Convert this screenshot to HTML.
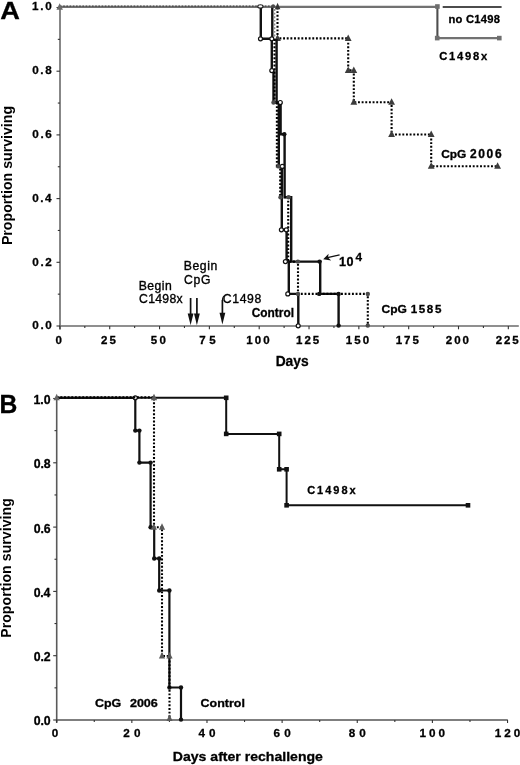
<!DOCTYPE html>
<html><head><meta charset="utf-8"><style>
html,body{margin:0;padding:0;background:#fff;}
svg{display:block;will-change:transform;}
text{font-family:"Liberation Sans", sans-serif;}
</style></head><body>
<svg width="520" height="765" viewBox="0 0 520 765">
<rect width="520" height="765" fill="#fff"/>
<line x1="60" y1="7" x2="60" y2="329.5" stroke="#7a7a7a" stroke-width="1.8"/>
<line x1="59" y1="326" x2="518.8" y2="326" stroke="#6a6a6a" stroke-width="1.7"/>
<line x1="56.5" y1="326.00" x2="60" y2="326.00" stroke="#333" stroke-width="1.1"/>
<line x1="57.8" y1="294.15" x2="60" y2="294.15" stroke="#333" stroke-width="1.1"/>
<line x1="56.5" y1="262.30" x2="60" y2="262.30" stroke="#333" stroke-width="1.1"/>
<line x1="57.8" y1="230.45" x2="60" y2="230.45" stroke="#333" stroke-width="1.1"/>
<line x1="56.5" y1="198.60" x2="60" y2="198.60" stroke="#333" stroke-width="1.1"/>
<line x1="57.8" y1="166.75" x2="60" y2="166.75" stroke="#333" stroke-width="1.1"/>
<line x1="56.5" y1="134.90" x2="60" y2="134.90" stroke="#333" stroke-width="1.1"/>
<line x1="57.8" y1="103.05" x2="60" y2="103.05" stroke="#333" stroke-width="1.1"/>
<line x1="56.5" y1="71.20" x2="60" y2="71.20" stroke="#333" stroke-width="1.1"/>
<line x1="57.8" y1="39.35" x2="60" y2="39.35" stroke="#333" stroke-width="1.1"/>
<line x1="56.5" y1="7.50" x2="60" y2="7.50" stroke="#333" stroke-width="1.1"/>
<line x1="59.90" y1="326" x2="59.90" y2="329.3" stroke="#333" stroke-width="1.1"/>
<line x1="84.81" y1="326" x2="84.81" y2="328.0" stroke="#333" stroke-width="1.1"/>
<line x1="109.72" y1="326" x2="109.72" y2="329.3" stroke="#333" stroke-width="1.1"/>
<line x1="134.64" y1="326" x2="134.64" y2="328.0" stroke="#333" stroke-width="1.1"/>
<line x1="159.55" y1="326" x2="159.55" y2="329.3" stroke="#333" stroke-width="1.1"/>
<line x1="184.46" y1="326" x2="184.46" y2="328.0" stroke="#333" stroke-width="1.1"/>
<line x1="209.38" y1="326" x2="209.38" y2="329.3" stroke="#333" stroke-width="1.1"/>
<line x1="234.29" y1="326" x2="234.29" y2="328.0" stroke="#333" stroke-width="1.1"/>
<line x1="259.20" y1="326" x2="259.20" y2="329.3" stroke="#333" stroke-width="1.1"/>
<line x1="284.11" y1="326" x2="284.11" y2="328.0" stroke="#333" stroke-width="1.1"/>
<line x1="309.02" y1="326" x2="309.02" y2="329.3" stroke="#333" stroke-width="1.1"/>
<line x1="333.94" y1="326" x2="333.94" y2="328.0" stroke="#333" stroke-width="1.1"/>
<line x1="358.85" y1="326" x2="358.85" y2="329.3" stroke="#333" stroke-width="1.1"/>
<line x1="383.76" y1="326" x2="383.76" y2="328.0" stroke="#333" stroke-width="1.1"/>
<line x1="408.68" y1="326" x2="408.68" y2="329.3" stroke="#333" stroke-width="1.1"/>
<line x1="433.59" y1="326" x2="433.59" y2="328.0" stroke="#333" stroke-width="1.1"/>
<line x1="458.50" y1="326" x2="458.50" y2="329.3" stroke="#333" stroke-width="1.1"/>
<line x1="483.41" y1="326" x2="483.41" y2="328.0" stroke="#333" stroke-width="1.1"/>
<line x1="508.32" y1="326" x2="508.32" y2="329.3" stroke="#333" stroke-width="1.1"/>
<text x="32.33" y="329.30" font-size="11.70" font-weight="bold" fill="#000" stroke="#000" stroke-width="0.3" letter-spacing="1.59">0.0</text>
<text x="32.33" y="265.50" font-size="11.70" font-weight="bold" fill="#000" stroke="#000" stroke-width="0.3" letter-spacing="1.59">0.2</text>
<text x="32.33" y="201.70" font-size="11.70" font-weight="bold" fill="#000" stroke="#000" stroke-width="0.3" letter-spacing="1.41">0.4</text>
<text x="32.33" y="137.90" font-size="11.70" font-weight="bold" fill="#000" stroke="#000" stroke-width="0.3" letter-spacing="1.59">0.6</text>
<text x="32.33" y="74.10" font-size="11.70" font-weight="bold" fill="#000" stroke="#000" stroke-width="0.3" letter-spacing="1.53">0.8</text>
<text x="32.10" y="10.30" font-size="11.70" font-weight="bold" fill="#000" stroke="#000" stroke-width="0.3" letter-spacing="1.70">1.0</text>
<text x="55.39" y="343.80" font-size="11.50" font-weight="bold" fill="#000" stroke="#000" stroke-width="0.3">0</text>
<text x="100.98" y="343.80" font-size="11.50" font-weight="bold" fill="#000" stroke="#000" stroke-width="0.3" letter-spacing="2.21">25</text>
<text x="150.81" y="343.80" font-size="11.50" font-weight="bold" fill="#000" stroke="#000" stroke-width="0.3" letter-spacing="2.32">50</text>
<text x="199.37" y="343.80" font-size="11.50" font-weight="bold" fill="#000" stroke="#000" stroke-width="0.3" letter-spacing="3.47">75</text>
<text x="246.21" y="343.80" font-size="11.50" font-weight="bold" fill="#000" stroke="#000" stroke-width="0.3" letter-spacing="2.07">100</text>
<text x="296.03" y="343.80" font-size="11.50" font-weight="bold" fill="#000" stroke="#000" stroke-width="0.3" letter-spacing="2.02">125</text>
<text x="345.86" y="343.80" font-size="11.50" font-weight="bold" fill="#000" stroke="#000" stroke-width="0.3" letter-spacing="2.07">150</text>
<text x="395.69" y="343.80" font-size="11.50" font-weight="bold" fill="#000" stroke="#000" stroke-width="0.3" letter-spacing="2.02">175</text>
<text x="445.85" y="343.80" font-size="11.50" font-weight="bold" fill="#000" stroke="#000" stroke-width="0.3" letter-spacing="1.90">200</text>
<text x="495.68" y="343.80" font-size="11.50" font-weight="bold" fill="#000" stroke="#000" stroke-width="0.3" letter-spacing="1.84">225</text>
<text transform="translate(275.63,365.60) scale(0.999,1)" x="0" y="0" font-size="13.80" font-weight="bold" fill="#000" stroke="#000" stroke-width="0.3">Days</text>
<text transform="translate(11.60,245.09) rotate(-90)" x="0" y="0" font-size="14.20" font-weight="bold" letter-spacing="-0.02">Proportion surviving</text>
<text transform="translate(0.23,18.50) scale(1.110,1)" x="0" y="0" font-size="24.50" font-weight="bold" fill="#000" stroke="#000" stroke-width="0.3">A</text>
<line x1="56.7" y1="398" x2="56.7" y2="722.5" stroke="#5a5a5a" stroke-width="1.6"/>
<line x1="56" y1="720" x2="507.8" y2="720" stroke="#555" stroke-width="1.5"/>
<line x1="53.2" y1="720.00" x2="56.7" y2="720.00" stroke="#333" stroke-width="1.1"/>
<line x1="54.5" y1="687.85" x2="56.7" y2="687.85" stroke="#333" stroke-width="1.1"/>
<line x1="53.2" y1="655.70" x2="56.7" y2="655.70" stroke="#333" stroke-width="1.1"/>
<line x1="54.5" y1="623.55" x2="56.7" y2="623.55" stroke="#333" stroke-width="1.1"/>
<line x1="53.2" y1="591.40" x2="56.7" y2="591.40" stroke="#333" stroke-width="1.1"/>
<line x1="54.5" y1="559.25" x2="56.7" y2="559.25" stroke="#333" stroke-width="1.1"/>
<line x1="53.2" y1="527.10" x2="56.7" y2="527.10" stroke="#333" stroke-width="1.1"/>
<line x1="54.5" y1="494.95" x2="56.7" y2="494.95" stroke="#333" stroke-width="1.1"/>
<line x1="53.2" y1="462.80" x2="56.7" y2="462.80" stroke="#333" stroke-width="1.1"/>
<line x1="54.5" y1="430.65" x2="56.7" y2="430.65" stroke="#333" stroke-width="1.1"/>
<line x1="53.2" y1="398.50" x2="56.7" y2="398.50" stroke="#333" stroke-width="1.1"/>
<line x1="56.70" y1="720" x2="56.70" y2="723.0" stroke="#333" stroke-width="1.1"/>
<line x1="94.27" y1="720" x2="94.27" y2="722.0" stroke="#333" stroke-width="1.1"/>
<line x1="131.84" y1="720" x2="131.84" y2="723.0" stroke="#333" stroke-width="1.1"/>
<line x1="169.41" y1="720" x2="169.41" y2="722.0" stroke="#333" stroke-width="1.1"/>
<line x1="206.98" y1="720" x2="206.98" y2="723.0" stroke="#333" stroke-width="1.1"/>
<line x1="244.55" y1="720" x2="244.55" y2="722.0" stroke="#333" stroke-width="1.1"/>
<line x1="282.12" y1="720" x2="282.12" y2="723.0" stroke="#333" stroke-width="1.1"/>
<line x1="319.69" y1="720" x2="319.69" y2="722.0" stroke="#333" stroke-width="1.1"/>
<line x1="357.26" y1="720" x2="357.26" y2="723.0" stroke="#333" stroke-width="1.1"/>
<line x1="394.83" y1="720" x2="394.83" y2="722.0" stroke="#333" stroke-width="1.1"/>
<line x1="432.40" y1="720" x2="432.40" y2="723.0" stroke="#333" stroke-width="1.1"/>
<line x1="469.97" y1="720" x2="469.97" y2="722.0" stroke="#333" stroke-width="1.1"/>
<line x1="507.54" y1="720" x2="507.54" y2="723.0" stroke="#333" stroke-width="1.1"/>
<text x="33.71" y="725.40" font-size="12.30" font-weight="bold" fill="#000" stroke="#000" stroke-width="0.3" letter-spacing="-0.06">0.0</text>
<text x="33.71" y="661.10" font-size="12.30" font-weight="bold" fill="#000" stroke="#000" stroke-width="0.3" letter-spacing="-0.06">0.2</text>
<text x="33.71" y="596.80" font-size="12.30" font-weight="bold" fill="#000" stroke="#000" stroke-width="0.3" letter-spacing="-0.24">0.4</text>
<text x="33.71" y="532.50" font-size="12.30" font-weight="bold" fill="#000" stroke="#000" stroke-width="0.3" letter-spacing="-0.06">0.6</text>
<text x="33.71" y="468.20" font-size="12.30" font-weight="bold" fill="#000" stroke="#000" stroke-width="0.3" letter-spacing="-0.12">0.8</text>
<text x="33.46" y="403.90" font-size="12.30" font-weight="bold" fill="#000" stroke="#000" stroke-width="0.3" letter-spacing="0.07">1.0</text>
<text x="51.78" y="736.60" font-size="11.70" font-weight="bold" fill="#000" stroke="#000" stroke-width="0.3">0</text>
<text x="123.29" y="736.60" font-size="11.70" font-weight="bold" fill="#000" stroke="#000" stroke-width="0.3" letter-spacing="4.11">20</text>
<text x="198.55" y="736.60" font-size="11.70" font-weight="bold" fill="#000" stroke="#000" stroke-width="0.3" letter-spacing="4.00">40</text>
<text x="273.45" y="736.60" font-size="11.70" font-weight="bold" fill="#000" stroke="#000" stroke-width="0.3" letter-spacing="4.23">60</text>
<text x="348.71" y="736.60" font-size="11.70" font-weight="bold" fill="#000" stroke="#000" stroke-width="0.3" letter-spacing="4.11">80</text>
<text x="419.55" y="736.60" font-size="11.70" font-weight="bold" fill="#000" stroke="#000" stroke-width="0.3" letter-spacing="2.97">100</text>
<text x="494.69" y="736.60" font-size="11.70" font-weight="bold" fill="#000" stroke="#000" stroke-width="0.3" letter-spacing="2.97">120</text>
<text transform="translate(172.81,761.30) scale(1.058,1)" x="0" y="0" font-size="13.30" font-weight="bold" fill="#000" stroke="#000" stroke-width="0.3">Days after rechallenge</text>
<text transform="translate(11.00,637.78) rotate(-90)" x="0" y="0" font-size="14.00" font-weight="bold" letter-spacing="0.10">Proportion surviving</text>
<text transform="translate(-0.58,413.40) scale(0.968,1)" x="0" y="0" font-size="25.50" font-weight="bold" fill="#000" stroke="#000" stroke-width="0.3">B</text>
<path d="M60,6.9 H437" fill="none" stroke="#727272" stroke-width="2.2" stroke-linejoin="miter" stroke-linecap="butt"/>
<path d="M60,6.1000000000000005 H272" fill="none" stroke="#444" stroke-width="1.4" stroke-linejoin="miter" stroke-linecap="butt" stroke-dasharray="1.6 1.6"/>
<path d="M442.7,6.9 H501.6" fill="none" stroke="#111" stroke-width="1.5" stroke-linejoin="miter" stroke-linecap="butt"/>
<path d="M437.4,6.9 V38.1" fill="none" stroke="#4e4e4e" stroke-width="2.1" stroke-linejoin="miter" stroke-linecap="butt"/>
<path d="M437.4,38.1 H499.3" fill="none" stroke="#727272" stroke-width="2.1" stroke-linejoin="miter" stroke-linecap="butt"/>
<rect x="435.10" y="4.20" width="4.6" height="4.6" fill="#6e6e6e"/>
<rect x="434.90" y="35.80" width="4.6" height="4.6" fill="#6e6e6e"/>
<rect x="497.00" y="35.80" width="4.6" height="4.6" fill="#6e6e6e"/>
<path d="M277.5,7.5 V38.4 H348.2 V70.4 H353.8 V102.2 H391.6 V134.5 H431.2 V166.3 H497.6" fill="none" stroke="#000" stroke-width="2.1" stroke-linejoin="miter" stroke-linecap="butt" stroke-dasharray="1.9 1.75"/>
<path d="M277.50,34.40 L280.90,40.90 L274.10,40.90Z" fill="#3c3c3c"/>
<path d="M348.20,34.40 L351.60,40.90 L344.80,40.90Z" fill="#3c3c3c"/>
<path d="M348.20,66.40 L351.60,72.90 L344.80,72.90Z" fill="#3c3c3c"/>
<path d="M353.80,66.40 L357.20,72.90 L350.40,72.90Z" fill="#3c3c3c"/>
<path d="M353.80,98.20 L357.20,104.70 L350.40,104.70Z" fill="#3c3c3c"/>
<path d="M391.60,98.20 L395.00,104.70 L388.20,104.70Z" fill="#3c3c3c"/>
<path d="M391.60,130.50 L395.00,137.00 L388.20,137.00Z" fill="#3c3c3c"/>
<path d="M431.20,130.50 L434.60,137.00 L427.80,137.00Z" fill="#3c3c3c"/>
<path d="M431.20,162.30 L434.60,168.80 L427.80,168.80Z" fill="#3c3c3c"/>
<path d="M497.60,162.30 L501.00,168.80 L494.20,168.80Z" fill="#3c3c3c"/>
<path d="M260.8,7.5 V38.8 H271.8 V70.6 H273.5 V102.5 H278.8 V166.4 H281.8 V229.8 H286.6 V261.6 H288.8 V293.9 H298.3 V326" fill="none" stroke="#111" stroke-width="2.4" stroke-linejoin="miter" stroke-linecap="butt"/>
<path d="M272.3,7.5 V39 M276.6,39 V102.5 H280.6 V134.3 H284.6 V197.3 H291.2 V261.6 H320.2 V293.9 H338.6 V326" fill="none" stroke="#111" stroke-width="2.4" stroke-linejoin="miter" stroke-linecap="butt"/>
<path d="M274.6,9 V39" fill="none" stroke="#888" stroke-width="1.5" stroke-linejoin="miter" stroke-linecap="butt" stroke-dasharray="1.9 1.75"/>
<path d="M274.5,39 V102.5 M276.9,102.5 V166.4 H280.2 V197.3 H288.2 V261.6 H298 V293.9 H367.8 V326" fill="none" stroke="#000" stroke-width="2.1" stroke-linejoin="miter" stroke-linecap="butt" stroke-dasharray="1.9 1.75"/>
<circle cx="260.50" cy="38.80" r="2.0" fill="#fff" stroke="#111" stroke-width="1.2"/>
<circle cx="271.80" cy="38.80" r="2.0" fill="#fff" stroke="#111" stroke-width="1.2"/>
<circle cx="271.80" cy="70.60" r="2.0" fill="#fff" stroke="#111" stroke-width="1.2"/>
<circle cx="282.30" cy="166.40" r="2.0" fill="#fff" stroke="#111" stroke-width="1.2"/>
<circle cx="281.40" cy="229.80" r="2.0" fill="#fff" stroke="#111" stroke-width="1.2"/>
<circle cx="286.30" cy="229.80" r="2.0" fill="#fff" stroke="#111" stroke-width="1.2"/>
<circle cx="285.40" cy="261.60" r="2.0" fill="#fff" stroke="#111" stroke-width="1.2"/>
<circle cx="287.80" cy="293.90" r="2.0" fill="#fff" stroke="#111" stroke-width="1.2"/>
<circle cx="298.20" cy="325.80" r="2.0" fill="#fff" stroke="#111" stroke-width="1.2"/>
<circle cx="284.30" cy="134.30" r="2.2" fill="#111"/>
<circle cx="319.60" cy="261.60" r="2.2" fill="#111"/>
<circle cx="319.20" cy="293.90" r="2.2" fill="#111"/>
<circle cx="338.60" cy="293.90" r="2.2" fill="#111"/>
<circle cx="338.60" cy="325.60" r="2.2" fill="#111"/>
<circle cx="273.50" cy="102.50" r="2.2" fill="#4a4a4a"/>
<circle cx="278.50" cy="166.40" r="2.2" fill="#4a4a4a"/>
<circle cx="280.50" cy="197.30" r="2.2" fill="#4a4a4a"/>
<circle cx="288.60" cy="197.30" r="2.2" fill="#4a4a4a"/>
<circle cx="297.90" cy="261.60" r="2.2" fill="#4a4a4a"/>
<circle cx="298.00" cy="293.90" r="2.2" fill="#4a4a4a"/>
<circle cx="367.80" cy="293.90" r="2.2" fill="#4a4a4a"/>
<circle cx="367.80" cy="325.60" r="2.2" fill="#4a4a4a"/>
<path d="M59.70,3.20 L62.95,9.70 L56.45,9.70Z" fill="#6a6a6a"/>
<ellipse cx="260.4" cy="6.4" rx="2.6" ry="1.7" fill="#fff" stroke="#222" stroke-width="1.1"/>
<circle cx="273.20" cy="6.20" r="1.9" fill="#4a4a4a"/>
<path d="M277.60,2.80 L280.35,9.30 L274.85,9.30Z" fill="#333"/>
<circle cx="280.30" cy="102.50" r="2.0" fill="#fff" stroke="#111" stroke-width="1.2"/>
<text x="448.42" y="23.30" font-size="11.20" font-weight="bold" fill="#000" stroke="#000" stroke-width="0.3" letter-spacing="0.27">no C1498</text>
<text x="439.25" y="60.20" font-size="11.20" font-weight="bold" fill="#000" stroke="#000" stroke-width="0.3" letter-spacing="1.77">C1498x</text>
<text transform="translate(441.22,157.60) scale(1.012,1)" x="0" y="0" font-size="11.80" font-weight="bold" fill="#000" stroke="#000" stroke-width="0.3">CpG</text>
<text x="469.94" y="157.60" font-size="12.00" font-weight="bold" fill="#000" stroke="#000" stroke-width="0.3" letter-spacing="1.66">2006</text>
<text transform="translate(381.52,312.70) scale(1.038,1)" x="0" y="0" font-size="11.60" font-weight="bold" fill="#000" stroke="#000" stroke-width="0.3">CpG</text>
<text x="410.80" y="312.70" font-size="11.60" font-weight="bold" fill="#000" stroke="#000" stroke-width="0.3" letter-spacing="1.59">1585</text>
<text transform="translate(251.72,316.80) scale(0.990,1)" x="0" y="0" font-size="12.00" font-weight="bold" fill="#000" stroke="#000" stroke-width="0.3">Control</text>
<text x="339.04" y="265.50" font-size="12.60" font-weight="bold" fill="#000" stroke="#000" stroke-width="0.3" letter-spacing="0.45">10</text>
<text x="355.56" y="260.60" font-size="11.80" font-weight="bold" fill="#000" stroke="#000" stroke-width="0.3">4</text>
<path d="M327.5,257.7 L339.6,254.9" fill="none" stroke="#111" stroke-width="1.3" stroke-linejoin="miter" stroke-linecap="butt"/>
<path d="M323.2,259.3 L328.6,253.7 L328.0,257.6 L331.2,260.6Z" fill="#111"/>
<text x="183.72" y="270.30" font-size="12.20" font-weight="normal" fill="#000" stroke="#000" stroke-width="0.35" letter-spacing="0.60">Begin</text>
<text x="184.09" y="283.50" font-size="12.20" font-weight="normal" fill="#000" stroke="#000" stroke-width="0.35" letter-spacing="0.68">CpG</text>
<text x="138.72" y="289.80" font-size="12.20" font-weight="normal" fill="#000" stroke="#000" stroke-width="0.35" letter-spacing="0.47">Begin</text>
<text x="139.09" y="303.10" font-size="12.20" font-weight="normal" fill="#000" stroke="#000" stroke-width="0.35" letter-spacing="0.31">C1498x</text>
<text x="222.79" y="303.00" font-size="12.20" font-weight="normal" fill="#000" stroke="#000" stroke-width="0.35" letter-spacing="0.66">C1498</text>
<path d="M190.6,298 V317.2" fill="none" stroke="#111" stroke-width="1.7" stroke-linejoin="miter" stroke-linecap="butt"/>
<path d="M187.70,313.40 L190.60,325.2 L193.50,313.40Z" fill="#111"/>
<path d="M196.9,298 V317.2" fill="none" stroke="#111" stroke-width="1.7" stroke-linejoin="miter" stroke-linecap="butt"/>
<path d="M194.00,313.40 L196.90,325.2 L199.80,313.40Z" fill="#111"/>
<path d="M222.4,300 V316.5" fill="none" stroke="#111" stroke-width="1.7" stroke-linejoin="miter" stroke-linecap="butt"/>
<path d="M219.50,312.70 L222.40,324.5 L225.30,312.70Z" fill="#111"/>
<path d="M222.4,300 Q222.6,296.5 225,295.5" fill="none" stroke="#111" stroke-width="1.1" stroke-linejoin="miter" stroke-linecap="butt"/>
<path d="M56.7,397.8 H226.2 V433.9 H279.2 V469.3 H286.6 V505.3 H468" fill="none" stroke="#111" stroke-width="2.0" stroke-linejoin="miter" stroke-linecap="butt"/>
<rect x="223.90" y="395.50" width="4.6" height="4.6" fill="#111"/>
<rect x="223.90" y="431.60" width="4.6" height="4.6" fill="#111"/>
<rect x="276.90" y="431.60" width="4.6" height="4.6" fill="#111"/>
<rect x="276.90" y="467.00" width="4.6" height="4.6" fill="#111"/>
<rect x="284.30" y="467.00" width="4.6" height="4.6" fill="#111"/>
<rect x="284.30" y="503.00" width="4.6" height="4.6" fill="#111"/>
<rect x="465.70" y="503.00" width="4.6" height="4.6" fill="#111"/>
<path d="M56.7,397.8 H135.3 V430.6 H139.4 V462.6 H150.6 V527.2 H154.2 V558.5 H159.2 V590.5 H169.4 V687.5 H181 V720" fill="none" stroke="#111" stroke-width="2.2" stroke-linejoin="miter" stroke-linecap="butt"/>
<circle cx="135.30" cy="430.60" r="2.2" fill="#111"/>
<circle cx="139.40" cy="430.60" r="2.2" fill="#111"/>
<circle cx="139.40" cy="462.60" r="2.2" fill="#111"/>
<circle cx="150.60" cy="462.60" r="2.2" fill="#111"/>
<circle cx="150.60" cy="527.20" r="2.2" fill="#111"/>
<circle cx="154.20" cy="558.50" r="2.2" fill="#111"/>
<circle cx="159.20" cy="558.50" r="2.2" fill="#111"/>
<circle cx="159.20" cy="590.50" r="2.2" fill="#111"/>
<circle cx="169.40" cy="590.50" r="2.2" fill="#111"/>
<circle cx="169.40" cy="687.50" r="2.2" fill="#111"/>
<circle cx="181.00" cy="687.50" r="2.2" fill="#111"/>
<circle cx="181.00" cy="719.60" r="2.2" fill="#111"/>
<circle cx="135.30" cy="397.80" r="2.0" fill="#fff" stroke="#111" stroke-width="1.2"/>
<path d="M56.7,397.40000000000003 H154 V527.2 H162 V656 H169.5 V720" fill="none" stroke="#000" stroke-width="2.1" stroke-linejoin="miter" stroke-linecap="butt" stroke-dasharray="1.9 1.75"/>
<path d="M154.00,393.80 L157.10,400.30 L150.90,400.30Z" fill="#5a5a5a"/>
<path d="M153.80,523.20 L156.90,529.70 L150.70,529.70Z" fill="#5a5a5a"/>
<path d="M162.00,523.20 L165.10,529.70 L158.90,529.70Z" fill="#5a5a5a"/>
<path d="M162.00,652.00 L165.10,658.50 L158.90,658.50Z" fill="#5a5a5a"/>
<path d="M169.50,652.00 L172.60,658.50 L166.40,658.50Z" fill="#5a5a5a"/>
<path d="M169.50,714.50 L172.60,721.00 L166.40,721.00Z" fill="#5a5a5a"/>
<path d="M56.70,393.80 L59.80,400.30 L53.60,400.30Z" fill="#666"/>
<text x="307.16" y="493.70" font-size="11.00" font-weight="bold" fill="#000" stroke="#000" stroke-width="0.3" letter-spacing="2.01">C1498x</text>
<text transform="translate(94.90,707.00) scale(1.077,1)" x="0" y="0" font-size="11.60" font-weight="bold" fill="#000" stroke="#000" stroke-width="0.3">CpG</text>
<text transform="translate(129.92,707.00) scale(1.120,1)" x="0" y="0" font-size="11.20" font-weight="bold" fill="#000" stroke="#000" stroke-width="0.3">2006</text>
<text transform="translate(200.50,706.90) scale(1.068,1)" x="0" y="0" font-size="11.70" font-weight="bold" fill="#000" stroke="#000" stroke-width="0.3">Control</text>
</svg>
</body></html>
